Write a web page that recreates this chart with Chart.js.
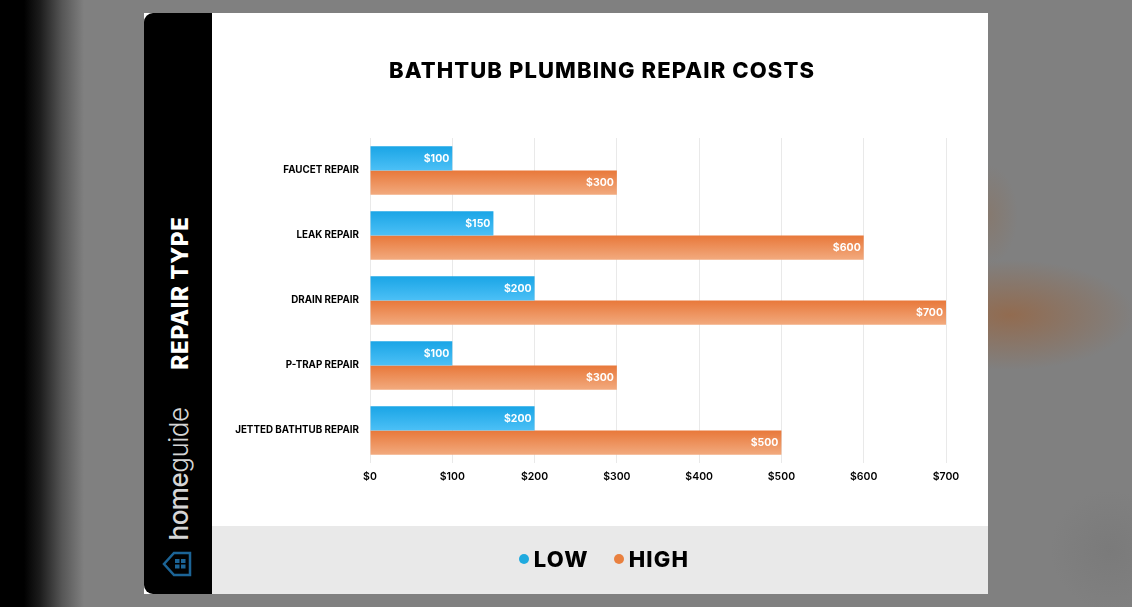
<!DOCTYPE html>
<html>
<head>
<meta charset="utf-8">
<title>Bathtub Plumbing Repair Costs</title>
<script src="https://cdn.jsdelivr.net/npm/chart.js@4"></script>
<style>
html, body { margin: 0; padding: 0; width: 1132px; height: 607px; overflow: hidden; }
body { position: relative; background: #808080; font-family: Inter, sans-serif; }

#backdrop {
    position: absolute; left: 0; top: 0; width: 1132px; height: 607px;
    background:
        radial-gradient(ellipse 125px 55px at 1010px 315px, rgba(160, 90, 40, 0.55), rgba(160, 90, 40, 0) 100%),
        radial-gradient(ellipse 30px 50px at 988px 215px, rgba(150, 100, 60, 0.25), rgba(150, 100, 60, 0) 100%),
        radial-gradient(ellipse 60px 60px at 1110px 550px, rgba(100, 100, 100, 0.2), rgba(100, 100, 100, 0) 100%),
        linear-gradient(to right, #000 0, #000 24px, #1c1c1c 40px, #565656 62px, #808080 84px);
}
#card { position: absolute; left: 144px; top: 13px; width: 844px; height: 581px; background: #fff; }
#sidebar { position: absolute; left: 0; top: 0; width: 68px; height: 581px; background: #000; border-radius: 9px 0 0 9px; }
#axisName {
    position: absolute; left: 35px; top: 279.5px; transform: translate(-50%, -50%) rotate(-90deg);
    color: #fff; font-weight: 800; font-size: 22.5px; letter-spacing: 0.7px; white-space: nowrap;
}
#brand {
    position: absolute; left: 34px; top: 461px; transform: translate(-50%, -50%) rotate(-90deg);
    color: #d6d6d6; font-size: 26px; font-weight: 300; letter-spacing: -0.5px; white-space: nowrap;
}
#brand b { font-weight: 500; }
#house { position: absolute; left: 18px; top: 538px; }
#chartTitle {
    position: absolute; left: 70px; width: 776px; top: 42px; text-align: center;
    font-size: 22px; font-weight: 800; letter-spacing: 1.1px; color: #000; line-height: 30px; white-space: nowrap;
}
#footer { position: absolute; left: 68px; top: 513px; width: 776px; height: 68px; background: #e9e9e9; }
#legend {
    position: absolute; left: 4px; top: -1px; width: 776px; height: 68px; display: flex;
    justify-content: center; align-items: center; font-size: 22px; font-weight: 800; letter-spacing: 1.2px; color: #000;
}
#legend span.item { display: flex; align-items: center; margin: 0 12.5px; }
#legend i { display: inline-block; width: 10px; height: 10px; border-radius: 50%; margin-right: 5px; }
canvas { position: absolute; left: 68px; top: 0; }
</style>
</head>
<body>
<div id="backdrop"></div>
<div id="card">
    <canvas id="costChart" width="776" height="513"></canvas>
    <div id="chartTitle">BATHTUB PLUMBING REPAIR COSTS</div>
    <div id="sidebar">
        <div id="axisName">REPAIR TYPE</div>
        <div id="brand"><b>home</b>guide</div>
        <svg id="house" width="30" height="26" viewBox="0 0 30 26">
            <path d="M28 2 H12 L2 13 L12 24 H28 Z" fill="none" stroke="#1c6496" stroke-width="2.5"/>
            <path d="M13 8 h4.5 v4 h-4.5 z M19 8 h4.5 v4 h-4.5 z M13 13.5 h4.5 v4 h-4.5 z M19 13.5 h4.5 v4 h-4.5 z" fill="#1c6496"/>
        </svg>
    </div>
    <div id="footer"><div id="legend"></div></div>
</div>

<script>
const categories = ['FAUCET REPAIR', 'LEAK REPAIR', 'DRAIN REPAIR', 'P-TRAP REPAIR', 'JETTED BATHTUB REPAIR'];
const lowCosts = [100, 150, 200, 100, 200];
const highCosts = [300, 600, 700, 300, 500];
const seriesNames = ['LOW', 'HIGH'];
const maxCost = 700;
const costStep = 100;

const groupPercent = 0.745;
const lowGradient = ['#1aa5e6', '#4cc0f6'];
const highGradient = ['#e8783a', '#f2aa7e'];
const legendColors = ['#1faadf', '#e9803f'];

// Each bar gets its own top to bottom fade
function barGradient(stops, isLower) {
    return function (context) {
        const chart = context.chart;
        if (!chart.chartArea) {
            return stops[0];
        }
        const center = chart.scales.y.getPixelForValue(context.dataIndex);
        const half = chart.chartArea.height / categories.length * groupPercent / 2;
        const top = isLower ? center : center - half;
        const gradient = chart.ctx.createLinearGradient(0, top, 0, top + half);
        gradient.addColorStop(0, stops[0]);
        gradient.addColorStop(1, stops[1]);
        return gradient;
    };
}

// Dollar labels inside the end of each bar
const barLabels = {
    id: 'barLabels',
    afterDatasetsDraw(chart) {
        const ctx = chart.ctx;
        ctx.save();
        ctx.font = '700 10.5px Inter, sans-serif';
        ctx.fillStyle = '#fff';
        ctx.textAlign = 'right';
        ctx.textBaseline = 'middle';
        chart.data.datasets.forEach((dataset, i) => {
            chart.getDatasetMeta(i).data.forEach((bar, index) => {
                ctx.fillText('$' + dataset.data[index], bar.x - 3, bar.y + 0.5);
            });
        });
        ctx.restore();
    }
};

new Chart(document.getElementById('costChart'), {
    type: 'bar',
    data: {
        labels: categories,
        datasets: [
            { label: seriesNames[0], data: lowCosts, backgroundColor: barGradient(lowGradient, false) },
            { label: seriesNames[1], data: highCosts, backgroundColor: barGradient(highGradient, true) }
        ]
    },
    options: {
        indexAxis: 'y',
        responsive: false,
        animation: false,
        categoryPercentage: groupPercent,
        barPercentage: 1,
        layout: { padding: { top: 125, right: 42, left: 0, bottom: 0 } },
        plugins: { legend: { display: false }, tooltip: { enabled: false } },
        scales: {
            x: {
                min: 0,
                max: maxCost,
                afterFit(scale) { scale.height = 63; },
                grid: { color: '#e9e9e9', drawTicks: false },
                border: { display: false },
                ticks: {
                    stepSize: costStep,
                    padding: 8,
                    maxRotation: 0,
                    color: '#000',
                    font: { family: 'Inter, sans-serif', size: 10.5, weight: '600' },
                    callback: value => '$' + value
                }
            },
            y: {
                afterFit(scale) { scale.width = 158; },
                grid: { display: false },
                border: { display: false },
                ticks: {
                    padding: 3,
                    color: '#000',
                    font: { family: 'Inter, sans-serif', size: 9.8, weight: '700' }
                }
            }
        }
    },
    plugins: [barLabels]
});

// Legend row in the grey footer
const legend = document.getElementById('legend');
seriesNames.forEach((name, i) => {
    const item = document.createElement('span');
    item.className = 'item';
    const dot = document.createElement('i');
    dot.style.background = legendColors[i];
    item.appendChild(dot);
    item.appendChild(document.createTextNode(name));
    legend.appendChild(item);
});
</script>
</body>
</html>
